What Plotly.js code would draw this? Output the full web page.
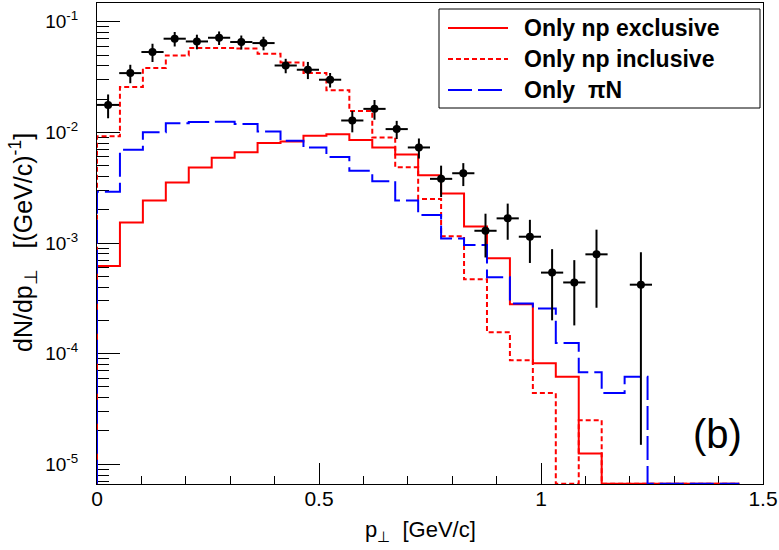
<!DOCTYPE html>
<html>
<head>
<meta charset="utf-8">
<script src="https://cdn.plot.ly/plotly-3.0.1.min.js"></script>
<style>html,body{margin:0;padding:0;background:#fff;}#plot{width:779px;height:550px;}</style>
</head>
<body>
<div id="plot"></div>
<script>
// ---- data ----
// measured points: bin centres (GeV/c), dN/dp values, symmetric errors
const ptX   = [0.025,0.075,0.125,0.175,0.225,0.275,0.325,0.375,0.425,0.475,0.525,0.575,0.625,0.675,0.725,0.775,0.825,0.875,0.925,0.975,1.025,1.075,1.125,1.225];
const ptY   = [0.0177,0.0343,0.0532,0.0702,0.0663,0.0716,0.0655,0.0641,0.0402,0.0368,0.0299,0.0128,0.0163,0.0107,0.0073,0.0038,0.00427,0.00129,0.00167,0.00114,0.00054,0.00044,0.00079,0.00042];
const ptErr = [0.0043,0.0065,0.0100,0.0105,0.0100,0.0100,0.0095,0.0090,0.0060,0.0065,0.0045,0.0028,0.0033,0.0020,0.0015,0.0012,0.0010,0.00055,0.0006,0.00048,0.00034,0.00026,0.00053,0.000405];

// model histograms: 28 bins of equal width starting at 0
const histBinWidth = 1.55/30;
const npExclusive = [0.00062,0.00153,0.00242,0.00352,0.0048,0.0059,0.0066,0.0080,0.00826,0.0093,0.0096,0.00855,0.0073,0.0063,0.0041,0.0028,0.00141,0.00073,0.00028,0.000082,0.000062,0.0000125,0,0,0,0,0,0];
const npInclusive = [0.0092,0.0257,0.0381,0.0495,0.0578,0.0580,0.0572,0.0513,0.0428,0.0343,0.0240,0.0156,0.0090,0.00484,0.0025,0.00115,0.00047,0.000156,0.000087,0.000044,0,0.000025,0,0,0,0,0,0];
const piN         = [0.00291,0.00695,0.0100,0.0121,0.0124,0.0125,0.0119,0.0102,0.0084,0.0073,0.0060,0.0045,0.00362,0.00242,0.00179,0.0011,0.00096,0.00049,0.000284,0.000256,0.000125,0.000068,0.000044,0.000062,0,0,0,0];

const legendLabels = ["Only np exclusive","Only np inclusive","Only  \u03c0N"];
const yTickVals  = [1e-5,1e-4,1e-3,1e-2,1e-1];
const yTickText  = ["10<sup>-5</sup>","10<sup>-4</sup>","10<sup>-3</sup>","10<sup>-2</sup>","10<sup>-1</sup>"];
const xTickVals  = [0,0.5,1,1.5];
const xTickText  = ["0","0.5","1","1.5"];

// ---- layout helpers ----
const yRange = [-5.178, -0.831];
const floorVal = Math.pow(10, yRange[0] + 0.002);
function stepTrace(vals, color, dash){
  const x=[0], y=[floorVal];
  for(let k=0;k<vals.length;k++){ x.push(k*histBinWidth); y.push(vals[k]>0?vals[k]:floorVal); }
  x.push(vals.length*histBinWidth); y.push(vals[vals.length-1]>0?vals[vals.length-1]:floorVal);
  return {x:x,y:y,mode:'lines',type:'scatter',line:{shape:'hv',color:color,width:2,dash:dash},hoverinfo:'skip',showlegend:false};
}
const minorVals=[];
for(let e=-6;e<=0;e++){ for(let d=2;d<=9;d++){ minorVals.push(d*Math.pow(10,e)); } }

const colors = ['#ff0000','#ff0000','#0000ff'];
const dashes = ['solid','5px,3px','24px,6px'];

const traces = [
  stepTrace(npExclusive, colors[0], dashes[0]),
  stepTrace(npInclusive, colors[1], dashes[1]),
  stepTrace(piN, colors[2], dashes[2]),
  {x:ptX,y:ptY,mode:'markers',type:'scatter',showlegend:false,
   marker:{color:'black',size:8,symbol:'circle'},
   error_x:{type:'constant',value:0.025,color:'black',thickness:2,width:0},
   error_y:{type:'data',array:ptErr,symmetric:true,color:'black',thickness:2,width:0}}
];

const W=779,H=550,L=97,R=16,T=3,B=66;
const pw=W-L-R, ph=H-T-B;
const px=v=>(v-L)/pw, py=v=>(H-B-v)/ph;
const FONT='"Liberation Sans", Arial, Helvetica, sans-serif';

const shapes=[{type:'rect',xref:'paper',yref:'paper',x0:px(439),x1:px(760),y0:py(108),y1:py(9),line:{color:'black',width:1},fillcolor:'white',layer:'above'}];
const entryY=[28,59,90];
const annotations=[];
for(let i=0;i<3;i++){
  shapes.push({type:'line',xref:'paper',yref:'paper',x0:px(448),x1:px(508),y0:py(entryY[i]),y1:py(entryY[i]),line:{color:colors[i],width:2,dash:dashes[i]},layer:'above'});
  annotations.push({xref:'paper',yref:'paper',x:px(522),y:py(entryY[i]),xanchor:'left',yanchor:'middle',showarrow:false,text:'<b>'+legendLabels[i]+'</b>',font:{family:FONT,size:23,color:'black'}});
}
annotations.push({xref:'paper',yref:'paper',x:px(717),y:py(434),xanchor:'center',yanchor:'middle',showarrow:false,text:'(b)',font:{family:FONT,size:40,color:'black'}});
annotations.push({xref:'paper',yref:'paper',x:px(363),y:py(515),xanchor:'left',yanchor:'top',showarrow:false,text:'p<sub>\u22a5</sub>  [GeV/c]',font:{family:FONT,size:22,color:'black'}});
annotations.push({xref:'paper',yref:'paper',x:px(23),y:py(243),xanchor:'center',yanchor:'middle',textangle:-90,showarrow:false,text:'dN/dp<sub>\u22a5</sub>   [(GeV/c)<sup>-1</sup>]',font:{family:FONT,size:25,color:'black'}});

const layout={
  width:W,height:H,margin:{l:L,r:R,t:T,b:B},
  paper_bgcolor:'white',plot_bgcolor:'white',showlegend:false,
  font:{family:FONT,color:'black'},
  xaxis:{range:[0,1.5],tickmode:'array',tickvals:xTickVals,ticktext:xTickText,ticks:'inside',ticklen:21,tickwidth:1,tickcolor:'black',
    showline:true,linecolor:'black',linewidth:1,mirror:true,showgrid:false,zeroline:false,layer:'below traces',
    minor:{dtick:0.1,tick0:0,ticks:'inside',ticklen:8,tickwidth:1,tickcolor:'black',showgrid:false},
    tickfont:{family:FONT,size:21,color:'black'},ticklabelstandoff:-4},
  yaxis:{type:'log',range:yRange,tickmode:'array',tickvals:yTickVals,ticktext:yTickText,ticks:'inside',ticklen:23,tickwidth:1,tickcolor:'black',
    showline:true,linecolor:'black',linewidth:1,mirror:true,showgrid:false,zeroline:false,layer:'below traces',
    minor:{tickmode:'array',tickvals:minorVals,ticks:'inside',ticklen:12,tickwidth:1,tickcolor:'black',showgrid:false},
    tickfont:{family:FONT,size:19,color:'black'},ticklabelstandoff:14},
  shapes:shapes,annotations:annotations
};
Plotly.newPlot('plot',traces,layout,{staticPlot:true,displayModeBar:false});
</script>
</body>
</html>
